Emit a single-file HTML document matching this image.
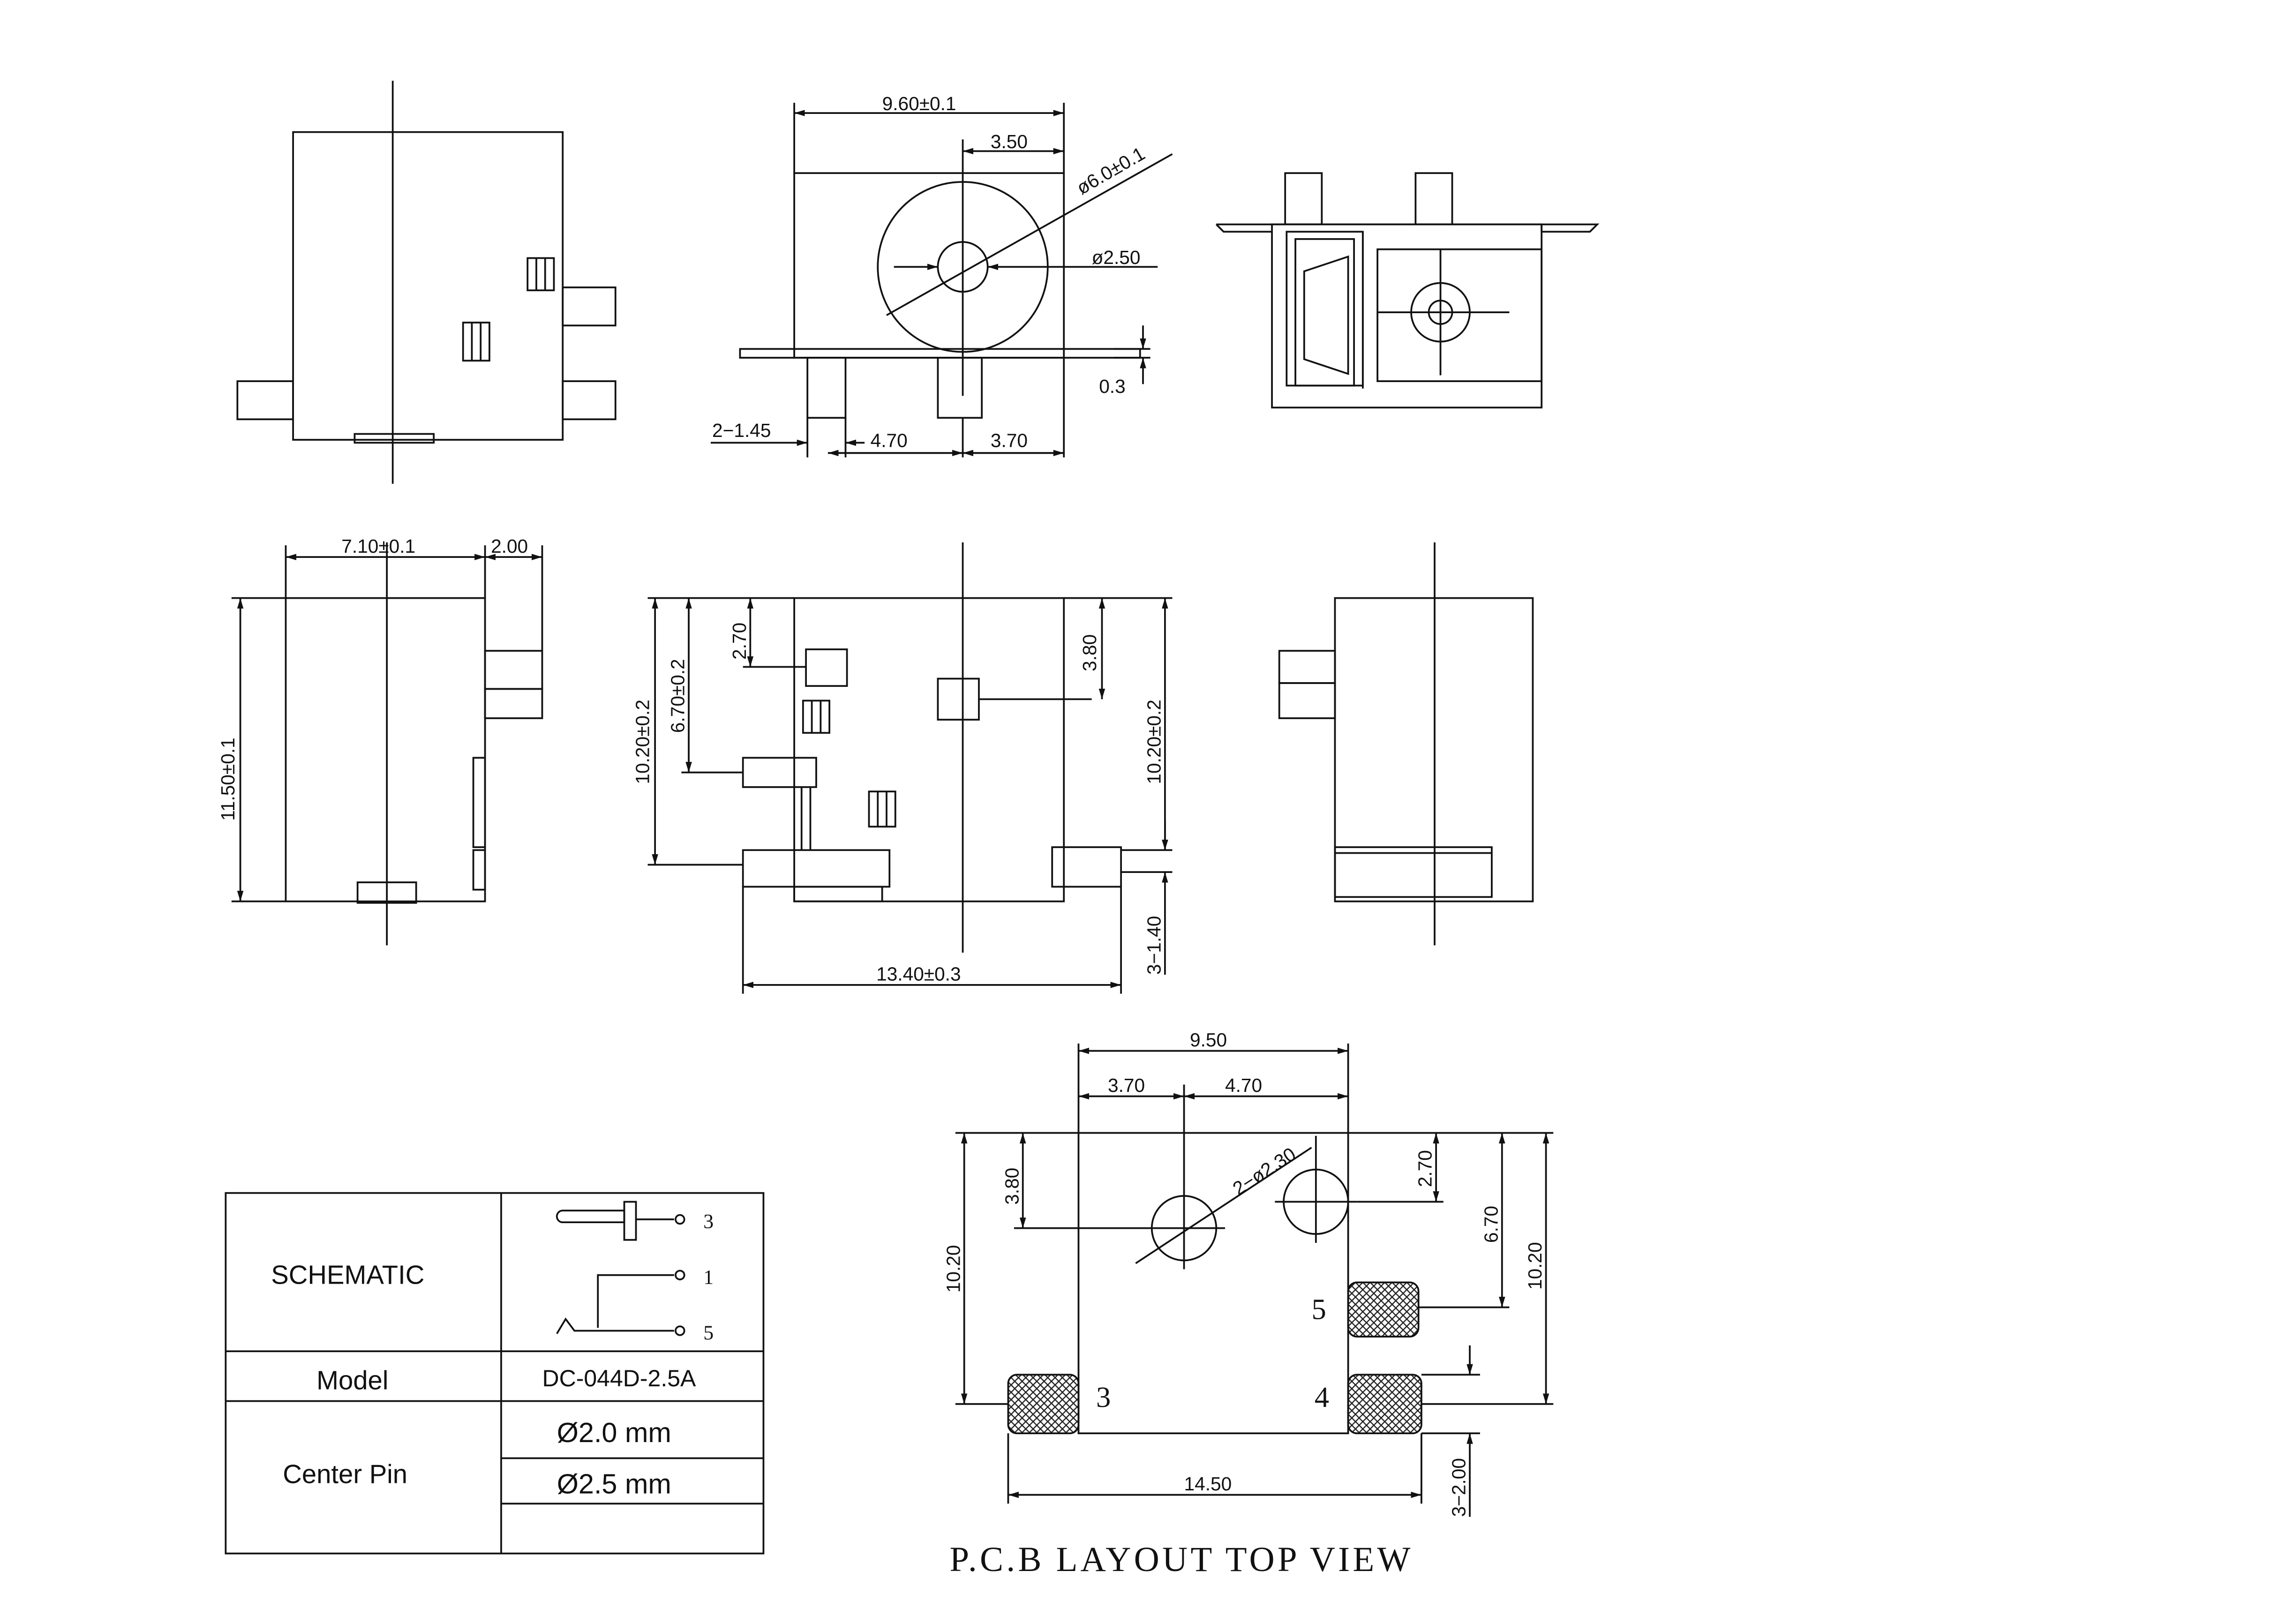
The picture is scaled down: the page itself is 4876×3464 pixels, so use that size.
<!DOCTYPE html>
<html><head><meta charset="utf-8"><style>
html,body{margin:0;padding:0;background:#fff}
svg{display:block}
text{font-family:"Liberation Sans",sans-serif;fill:#111}
</style></head><body>
<svg width="4876" height="3464" viewBox="0 0 1560 1108" xmlns="http://www.w3.org/2000/svg">
<defs>
<pattern id="h" width="5" height="5" patternUnits="userSpaceOnUse">
<path d="M0,0L5,5M5,0L0,5" stroke="#222" stroke-width="0.8"/>
</pattern>
<marker id="a" viewBox="0 0 10 10" refX="10" refY="5" markerWidth="6" markerHeight="6" orient="auto-start-reverse"><path d="M0,2L10,5L0,8z" fill="#111"/></marker>
</defs>
<g fill="none" stroke="#111" stroke-width="1.2">
<rect x="200" y="90" width="184" height="210"/>
<line x1="268" y1="55" x2="268" y2="330"/>
<rect x="384" y="196" width="36" height="26"/>
<rect x="384" y="260" width="36" height="26"/>
<rect x="162" y="260" width="38" height="26"/>
<rect x="360" y="176" width="18" height="22"/><line x1="366" y1="176" x2="366" y2="198"/><line x1="372" y1="176" x2="372" y2="198"/>
<rect x="316" y="220" width="18" height="26"/><line x1="322" y1="220" x2="322" y2="246"/><line x1="328" y1="220" x2="328" y2="246"/>
<rect x="242" y="296" width="54" height="6"/>

<rect x="542" y="118" width="184" height="126"/>
<rect x="505" y="238" width="273" height="6"/>
<circle cx="657" cy="182" r="58"/>
<circle cx="657" cy="182" r="17"/>
<rect x="551" y="244" width="26" height="41"/>
<rect x="640" y="244" width="30" height="41"/>
<line x1="657" y1="95" x2="657" y2="270"/>
<line x1="542" y1="70" x2="542" y2="118"/><line x1="726" y1="70" x2="726" y2="118"/>
<line x1="542" y1="77" x2="726" y2="77" marker-start="url(#a)" marker-end="url(#a)"/>
<line x1="657" y1="103" x2="726" y2="103" marker-start="url(#a)" marker-end="url(#a)"/>
<line x1="605" y1="215" x2="800" y2="105"/>
<line x1="610" y1="182" x2="640" y2="182" marker-end="url(#a)"/>
<line x1="705" y1="182" x2="674" y2="182" marker-end="url(#a)"/>
<line x1="705" y1="182" x2="790" y2="182"/>
<line x1="760" y1="238" x2="785" y2="238"/><line x1="760" y1="244" x2="785" y2="244"/>
<line x1="780" y1="222" x2="780" y2="238" marker-end="url(#a)"/><line x1="780" y1="262" x2="780" y2="244" marker-end="url(#a)"/>
<line x1="551" y1="285" x2="551" y2="312"/><line x1="577" y1="285" x2="577" y2="312"/>
<line x1="657" y1="285" x2="657" y2="312"/><line x1="726" y1="244" x2="726" y2="312"/>
<line x1="485" y1="302" x2="551" y2="302" marker-end="url(#a)"/><line x1="590" y1="302" x2="577" y2="302" marker-end="url(#a)"/>
<line x1="565" y1="309" x2="726" y2="309"/>
<line x1="565" y1="309" x2="657" y2="309" marker-start="url(#a)" marker-end="url(#a)"/>
<line x1="657" y1="309" x2="726" y2="309" marker-start="url(#a)" marker-end="url(#a)"/>

<rect x="868" y="153" width="184" height="125"/>
<path d="M830,153H1090L1085,158H1052V153"/>
<path d="M830,153L835,158H868"/>
<rect x="877" y="118" width="25" height="35"/>
<rect x="966" y="118" width="25" height="35"/>
<rect x="878" y="158" width="52" height="105"/>
<rect x="884" y="163" width="40" height="100"/>
<rect x="940" y="170" width="112" height="90"/>
<line x1="930" y1="158" x2="930" y2="265"/>
<path d="M890,185L920,175V255L890,245Z"/>
<circle cx="983" cy="213" r="20"/><circle cx="983" cy="213" r="8"/>
<line x1="983" y1="170" x2="983" y2="256"/><line x1="940" y1="213" x2="1030" y2="213"/>

<rect x="195" y="408" width="136" height="207"/>
<line x1="264" y1="370" x2="264" y2="645"/>
<rect x="331" y="444" width="39" height="26"/><rect x="331" y="470" width="39" height="20"/>
<rect x="323" y="517" width="8" height="61"/><rect x="323" y="580" width="8" height="27"/>
<rect x="244" y="602" width="40" height="14"/>
<line x1="195" y1="372" x2="195" y2="408"/><line x1="331" y1="372" x2="331" y2="408"/><line x1="370" y1="372" x2="370" y2="444"/>
<line x1="195" y1="380" x2="331" y2="380" marker-start="url(#a)" marker-end="url(#a)"/>
<line x1="331" y1="380" x2="370" y2="380" marker-start="url(#a)" marker-end="url(#a)"/>
<line x1="158" y1="408" x2="195" y2="408"/><line x1="158" y1="615" x2="195" y2="615"/>
<line x1="164" y1="408" x2="164" y2="615" marker-start="url(#a)" marker-end="url(#a)"/>

<rect x="542" y="408" width="184" height="207"/>
<line x1="657" y1="370" x2="657" y2="650"/>
<rect x="550" y="443" width="28" height="25"/>
<rect x="640" y="463" width="28" height="28"/><line x1="668" y1="477" x2="745" y2="477"/>
<rect x="548" y="478" width="18" height="22"/><line x1="554" y1="478" x2="554" y2="500"/><line x1="560" y1="478" x2="560" y2="500"/>
<rect x="593" y="540" width="18" height="24"/><line x1="599" y1="540" x2="599" y2="564"/><line x1="605" y1="540" x2="605" y2="564"/>
<rect x="507" y="517" width="50" height="20"/>
<line x1="547" y1="537" x2="547" y2="580"/><line x1="553" y1="537" x2="553" y2="580"/>
<rect x="507" y="580" width="100" height="25"/>
<rect x="542" y="605" width="60" height="10"/>
<rect x="718" y="578" width="47" height="27"/>
<line x1="442" y1="408" x2="542" y2="408"/><line x1="442" y1="590" x2="507" y2="590"/>
<line x1="447" y1="408" x2="447" y2="590" marker-start="url(#a)" marker-end="url(#a)"/>
<line x1="465" y1="527" x2="507" y2="527"/>
<line x1="470" y1="408" x2="470" y2="527" marker-start="url(#a)" marker-end="url(#a)"/>
<line x1="507" y1="455" x2="550" y2="455"/>
<line x1="512" y1="408" x2="512" y2="455" marker-start="url(#a)" marker-end="url(#a)"/>
<line x1="726" y1="408" x2="800" y2="408"/>
<line x1="752" y1="408" x2="752" y2="477" marker-start="url(#a)" marker-end="url(#a)"/>
<line x1="765" y1="580" x2="800" y2="580"/><line x1="765" y1="595" x2="800" y2="595"/>
<line x1="795" y1="408" x2="795" y2="580" marker-start="url(#a)" marker-end="url(#a)"/>
<line x1="795" y1="560" x2="795" y2="580" marker-end="url(#a)"/><line x1="795" y1="665" x2="795" y2="595" marker-end="url(#a)"/>
<line x1="507" y1="605" x2="507" y2="678"/><line x1="765" y1="605" x2="765" y2="678"/>
<line x1="507" y1="672" x2="765" y2="672" marker-start="url(#a)" marker-end="url(#a)"/>

<rect x="911" y="408" width="135" height="207"/>
<line x1="979" y1="370" x2="979" y2="645"/>
<rect x="873" y="444" width="38" height="22"/><rect x="873" y="466" width="38" height="24"/>
<rect x="911" y="578" width="107" height="34"/><line x1="911" y1="582" x2="1018" y2="582"/>

<rect x="736" y="773" width="184" height="205"/>
<circle cx="808" cy="838" r="22"/><circle cx="898" cy="820" r="22"/>
<line x1="780" y1="838" x2="836" y2="838"/><line x1="808" y1="810" x2="808" y2="866"/>
<line x1="870" y1="820" x2="926" y2="820"/><line x1="898" y1="775" x2="898" y2="848"/>
<line x1="775" y1="862" x2="895" y2="783"/>
<rect x="688" y="938" width="48" height="40" rx="6" fill="url(#h)"/>
<rect x="920" y="938" width="50" height="40" rx="6" fill="url(#h)"/>
<rect x="920" y="875" width="48" height="37" rx="6" fill="url(#h)"/>
<line x1="736" y1="712" x2="736" y2="773"/><line x1="920" y1="712" x2="920" y2="773"/>
<line x1="808" y1="740" x2="808" y2="810"/>
<line x1="736" y1="717" x2="920" y2="717" marker-start="url(#a)" marker-end="url(#a)"/>
<line x1="736" y1="748" x2="808" y2="748" marker-start="url(#a)" marker-end="url(#a)"/>
<line x1="808" y1="748" x2="920" y2="748" marker-start="url(#a)" marker-end="url(#a)"/>
<line x1="652" y1="773" x2="736" y2="773"/><line x1="652" y1="958" x2="688" y2="958"/>
<line x1="658" y1="773" x2="658" y2="958" marker-start="url(#a)" marker-end="url(#a)"/>
<line x1="692" y1="838" x2="780" y2="838"/>
<line x1="698" y1="773" x2="698" y2="838" marker-start="url(#a)" marker-end="url(#a)"/>
<line x1="920" y1="773" x2="1060" y2="773"/>
<line x1="926" y1="820" x2="985" y2="820"/>
<line x1="980" y1="773" x2="980" y2="820" marker-start="url(#a)" marker-end="url(#a)"/>
<line x1="968" y1="892" x2="1030" y2="892"/>
<line x1="1025" y1="773" x2="1025" y2="892" marker-start="url(#a)" marker-end="url(#a)"/>
<line x1="970" y1="958" x2="1060" y2="958"/>
<line x1="1055" y1="773" x2="1055" y2="958" marker-start="url(#a)" marker-end="url(#a)"/>
<line x1="970" y1="938" x2="1010" y2="938"/><line x1="970" y1="978" x2="1010" y2="978"/>
<line x1="1003" y1="918" x2="1003" y2="938" marker-end="url(#a)"/><line x1="1003" y1="1035" x2="1003" y2="978" marker-end="url(#a)"/>
<line x1="688" y1="978" x2="688" y2="1026"/><line x1="970" y1="978" x2="970" y2="1026"/>
<line x1="688" y1="1020" x2="970" y2="1020" marker-start="url(#a)" marker-end="url(#a)"/>

<rect x="154" y="814" width="367" height="246"/>
<line x1="342" y1="814" x2="342" y2="1060"/>
<line x1="154" y1="922" x2="521" y2="922"/>
<line x1="154" y1="956" x2="521" y2="956"/>
<line x1="342" y1="995" x2="521" y2="995"/>
<line x1="342" y1="1026" x2="521" y2="1026"/>
<path d="M384,826H426V834H384A4,4 0 0 1 384,826Z"/>
<rect x="426" y="820" width="8" height="26"/>
<line x1="434" y1="832" x2="460" y2="832"/><circle cx="464" cy="832" r="3"/>
<path d="M408,906V870H460"/><circle cx="464" cy="870" r="3"/>
<path d="M380,910L386,900L392,908H460"/><circle cx="464" cy="908" r="3"/>
</g>

<g font-size="13">
<text x="602" y="75">9.60±0.1</text>
<text x="676" y="101">3.50</text>
<text x="738" y="133" transform="rotate(-30 738 133)">ø6.0±0.1</text>
<text x="745" y="180">ø2.50</text>
<text x="750" y="268">0.3</text>
<text x="486" y="298">2−1.45</text>
<text x="594" y="305">4.70</text>
<text x="676" y="305">3.70</text>
<text x="233" y="377">7.10±0.1</text>
<text x="335" y="377">2.00</text>
<text x="160" y="560" transform="rotate(-90 160 560)">11.50±0.1</text>
<text x="443" y="535" transform="rotate(-90 443 535)">10.20±0.2</text>
<text x="467" y="500" transform="rotate(-90 467 500)">6.70±0.2</text>
<text x="509" y="450" transform="rotate(-90 509 450)">2.70</text>
<text x="748" y="458" transform="rotate(-90 748 458)">3.80</text>
<text x="792" y="535" transform="rotate(-90 792 535)">10.20±0.2</text>
<text x="792" y="665" transform="rotate(-90 792 665)">3−1.40</text>
<text x="598" y="669">13.40±0.3</text>
<text x="812" y="714">9.50</text>
<text x="756" y="745">3.70</text>
<text x="836" y="745">4.70</text>
<text x="845" y="816" transform="rotate(-33 845 816)">2−ø2.30</text>
<text x="655" y="882" transform="rotate(-90 655 882)">10.20</text>
<text x="695" y="822" transform="rotate(-90 695 822)">3.80</text>
<text x="977" y="810" transform="rotate(-90 977 810)">2.70</text>
<text x="1022" y="848" transform="rotate(-90 1022 848)">6.70</text>
<text x="1052" y="880" transform="rotate(-90 1052 880)">10.20</text>
<text x="1000" y="1035" transform="rotate(-90 1000 1035)">3−2.00</text>
<text x="808" y="1017">14.50</text>
</g>
<g font-size="20">
<text x="895" y="900" style="font-family:'Liberation Serif',serif">5</text>
<text x="748" y="960" style="font-family:'Liberation Serif',serif">3</text>
<text x="897" y="960" style="font-family:'Liberation Serif',serif">4</text>
<text x="480" y="838" font-size="14" style="font-family:'Liberation Serif',serif">3</text>
<text x="480" y="876" font-size="14" style="font-family:'Liberation Serif',serif">1</text>
<text x="480" y="914" font-size="14" style="font-family:'Liberation Serif',serif">5</text>
<text x="648" y="1072" font-size="24" style="font-family:'Liberation Serif',serif;letter-spacing:2px">P.C.B LAYOUT TOP VIEW</text>
</g>
<g font-size="18">
<text x="185" y="876">SCHEMATIC</text>
<text x="216" y="948">Model</text>
<text x="370" y="946" font-size="16">DC-044D-2.5A</text>
<text x="193" y="1012">Center Pin</text>
<text x="380" y="984" font-size="19">Ø2.0 mm</text>
<text x="380" y="1019" font-size="19">Ø2.5 mm</text>
</g>
</svg>
</body></html>
